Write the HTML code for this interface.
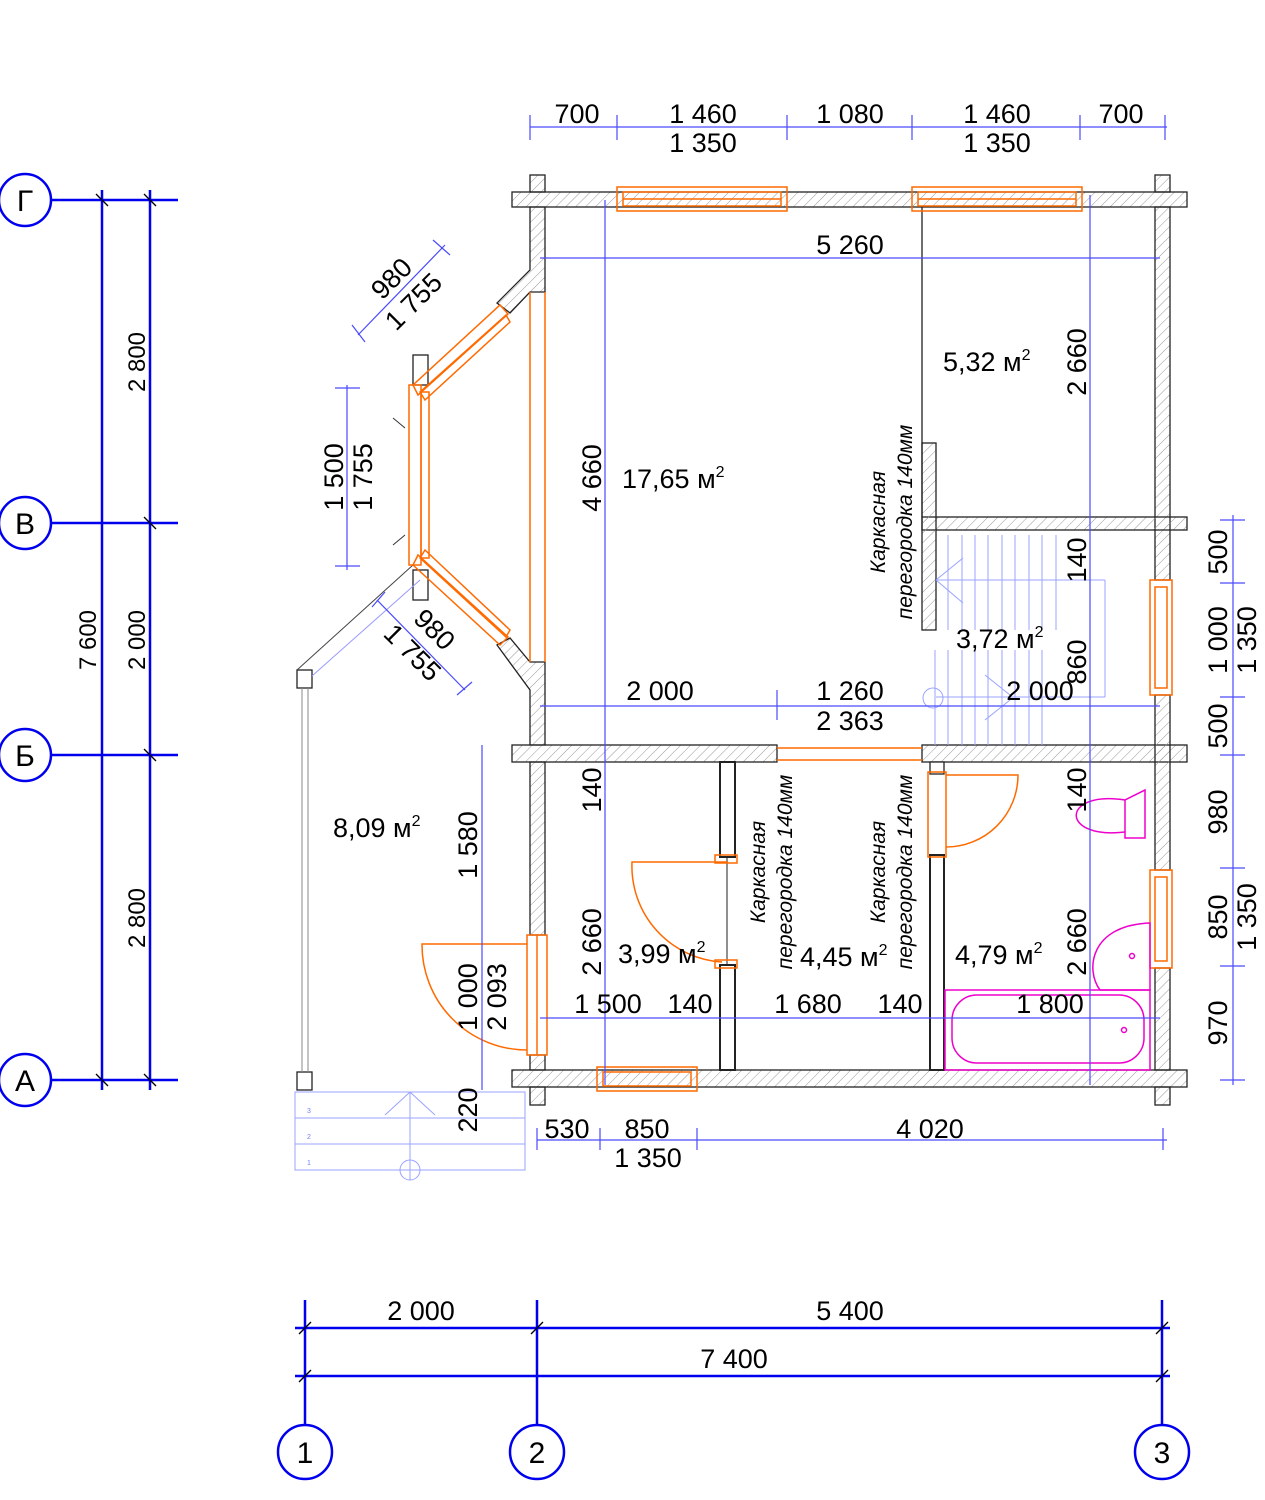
<!DOCTYPE html>
<html><head><meta charset="utf-8"><style>
html,body{margin:0;padding:0;background:#fff}
svg{display:block}
text{font-family:"Liberation Sans",sans-serif;fill:#000}
</style></head><body>
<svg width="1265" height="1500" viewBox="0 0 1265 1500" xmlns="http://www.w3.org/2000/svg">
<defs>
<pattern id="h" width="7" height="7" patternUnits="userSpaceOnUse" patternTransform="rotate(45)">
<line x1="0" y1="0" x2="0" y2="7" stroke="#999" stroke-width="1"/>
</pattern>
</defs>

<g stroke="#0000ee" stroke-width="2.5" fill="#fff">
<circle cx="25" cy="200" r="26"/><circle cx="25" cy="523" r="26"/><circle cx="25" cy="755" r="26"/><circle cx="25" cy="1080" r="26"/>
<line x1="51" y1="200" x2="178" y2="200"/><line x1="51" y1="523" x2="178" y2="523"/><line x1="51" y1="755" x2="178" y2="755"/><line x1="51" y1="1080" x2="178" y2="1080"/>
<line x1="102" y1="190" x2="102" y2="1090"/><line x1="150" y1="190" x2="150" y2="1090"/>
<circle cx="305" cy="1452" r="27"/><circle cx="537" cy="1452" r="27"/><circle cx="1162" cy="1452" r="27"/>
<line x1="305" y1="1425" x2="305" y2="1300"/><line x1="537" y1="1425" x2="537" y2="1300"/><line x1="1162" y1="1425" x2="1162" y2="1300"/>
<line x1="295" y1="1328" x2="1170" y2="1328"/><line x1="295" y1="1376" x2="1170" y2="1376"/>
</g>
<g stroke="#000" stroke-width="1.3">
<line x1="96" y1="194" x2="108" y2="206"/><line x1="144" y1="194" x2="156" y2="206"/>
<line x1="144" y1="517" x2="156" y2="529"/><line x1="144" y1="749" x2="156" y2="761"/>
<line x1="96" y1="1074" x2="108" y2="1086"/><line x1="144" y1="1074" x2="156" y2="1086"/>
<line x1="299" y1="1334" x2="311" y2="1322"/><line x1="531" y1="1334" x2="543" y2="1322"/><line x1="1156" y1="1334" x2="1168" y2="1322"/>
<line x1="299" y1="1382" x2="311" y2="1370"/><line x1="1156" y1="1382" x2="1168" y2="1370"/>
</g>
<g font-size="30" text-anchor="middle">
<text x="25" y="211">Г</text><text x="25" y="534">В</text><text x="25" y="766">Б</text><text x="25" y="1091">А</text>
<text x="305" y="1463">1</text><text x="537" y="1463">2</text><text x="1162" y="1463">3</text>
</g>
<g font-size="24" text-anchor="middle">
<text transform="translate(96,640) rotate(-90)">7 600</text>
<text transform="translate(145,362) rotate(-90)">2 800</text>
<text transform="translate(145,640) rotate(-90)">2 000</text>
<text transform="translate(145,918) rotate(-90)">2 800</text>
</g>
<g font-size="27" text-anchor="middle">
<text x="421" y="1320">2 000</text><text x="850" y="1320">5 400</text><text x="734" y="1368">7 400</text>
</g>

<g fill="url(#h)" stroke="#222" stroke-width="1.3">
<rect x="512" y="192" width="675" height="15"/>
<rect x="530" y="175" width="15" height="17"/><rect x="1155" y="175" width="15" height="17"/>
<polygon points="530,207 545,207 545,292 530,292 510,313 497,303 530,270"/>
<polygon points="497,645 510,638 530,662 545,662 545,745 530,745 530,690"/>
<rect x="530" y="762" width="15" height="173"/>
<rect x="530" y="1055" width="15" height="15"/>
<rect x="512" y="745" width="265" height="17"/>
<rect x="922" y="745" width="265" height="17"/>
<rect x="512" y="1070" width="675" height="17"/>
<rect x="530" y="1087" width="15" height="18"/><rect x="1155" y="1087" width="15" height="18"/>
<rect x="1155" y="207" width="15" height="373"/>
<rect x="1155" y="695" width="15" height="175"/>
<rect x="1155" y="968" width="15" height="102"/>
<rect x="922" y="517" width="265" height="13"/>
<rect x="922" y="443" width="14" height="187"/>
<rect x="720" y="762" width="15" height="95" fill="#fff" stroke-width="2"/>
<rect x="720" y="965" width="15" height="105" fill="#fff" stroke-width="2"/>
<rect x="930" y="855" width="14" height="215" fill="#fff" stroke-width="2"/>
<rect x="930" y="762" width="14" height="12" fill="#fff"/>
<rect x="297" y="670" width="15" height="18" fill="#fff"/><rect x="297" y="1072" width="15" height="18" fill="#fff"/>
<rect x="413" y="355" width="15" height="30" fill="#fff"/><rect x="413" y="570" width="15" height="30" fill="#fff"/>
</g>
<line x1="922" y1="207" x2="922" y2="517" stroke="#222" stroke-width="1.3"/>
<line x1="727" y1="857" x2="727" y2="965" stroke="#222" stroke-width="1"/>
<line x1="302" y1="688" x2="302" y2="1072" stroke="#888"/><line x1="308" y1="688" x2="308" y2="1072" stroke="#888"/>
<line x1="297" y1="670" x2="413" y2="565" stroke="#444"/>
<line x1="312" y1="676" x2="420" y2="580" stroke="#99f"/>
<line x1="393" y1="418" x2="405" y2="428" stroke="#333"/><line x1="393" y1="545" x2="405" y2="535" stroke="#333"/>

<g fill="none" stroke="#ff6a00" stroke-width="1.5">
<rect x="617" y="187" width="170" height="24"/><rect x="623" y="192" width="158" height="14"/>
<line x1="623" y1="199" x2="781" y2="199"/>
<rect x="912" y="187" width="170" height="24"/><rect x="918" y="192" width="158" height="14"/>
<line x1="918" y1="199" x2="1076" y2="199"/>
<rect x="597" y="1067" width="100" height="24"/><rect x="603" y="1072" width="88" height="14"/>
<rect x="1150" y="580" width="22" height="115"/><rect x="1155" y="587" width="12" height="101"/>
<rect x="1150" y="870" width="22" height="98"/><rect x="1155" y="877" width="12" height="84"/>
<rect x="527" y="935" width="20" height="120"/><line x1="537" y1="935" x2="537" y2="1055"/>
<line x1="545" y1="292" x2="545" y2="662"/><line x1="530" y1="292" x2="530" y2="662"/>
<polygon points="413,385 418,395 508,314 500,305"/>
<polygon points="420,392 425,400 510,322 506,315"/>
<rect x="409" y="385" width="12" height="180"/><rect x="421" y="392" width="8" height="166"/>
<polygon points="413,565 418,555 508,637 500,645"/>
<polygon points="420,558 425,550 510,630 506,637"/>
<line x1="777" y1="748" x2="922" y2="748"/><line x1="777" y1="760" x2="922" y2="760"/>
<rect x="715" y="855" width="22" height="8"/><rect x="715" y="960" width="22" height="8"/>
<path d="M728 862 L632 862 A96 96 0 0 0 722 962"/>
<rect x="928" y="772" width="18" height="85"/>
<path d="M946 775 L1018 775 A72 72 0 0 1 946 847"/>
<path d="M527 944 L422 944 A105 105 0 0 0 527 1050"/>
</g>

<g fill="none" stroke="#ee00cc" stroke-width="1.5">
<path d="M1145 790 L1145 838 L1125 838 L1125 800 Z"/>
<path d="M1125 800 C1060 790 1060 840 1125 832"/>
<path d="M1150 923 L1150 990 L1100 990 C1085 970 1090 925 1150 923 Z"/>
<circle cx="1132" cy="956" r="2.5"/>
<rect x="945" y="990" width="205" height="80"/>
<rect x="952" y="995" width="192" height="68" rx="25"/>
<circle cx="1124" cy="1030" r="2.5"/>
</g>

<g stroke="#9aa3ff" stroke-width="1" fill="none">
<line x1="936" y1="580" x2="1105" y2="580"/><line x1="936" y1="697" x2="1105" y2="697"/>
<line x1="1105" y1="580" x2="1105" y2="697"/>
<line x1="948" y1="535" x2="948" y2="630"/><line x1="962" y1="535" x2="962" y2="630"/><line x1="975" y1="535" x2="975" y2="630"/>
<line x1="988" y1="535" x2="988" y2="630"/><line x1="1002" y1="535" x2="1002" y2="630"/><line x1="1015" y1="535" x2="1015" y2="630"/>
<line x1="1029" y1="535" x2="1029" y2="630"/><line x1="1042" y1="535" x2="1042" y2="630"/><line x1="1056" y1="535" x2="1056" y2="630"/>
<line x1="935" y1="650" x2="935" y2="745"/><line x1="948" y1="650" x2="948" y2="745"/><line x1="962" y1="650" x2="962" y2="745"/>
<line x1="975" y1="650" x2="975" y2="745"/><line x1="988" y1="650" x2="988" y2="745"/><line x1="1002" y1="650" x2="1002" y2="745"/>
<line x1="1015" y1="650" x2="1015" y2="745"/><line x1="1029" y1="650" x2="1029" y2="745"/><line x1="1042" y1="650" x2="1042" y2="745"/>
<circle cx="933" cy="698" r="10"/>
<line x1="936" y1="580" x2="963" y2="558"/><line x1="936" y1="580" x2="963" y2="603"/>
<line x1="985" y1="675" x2="1010" y2="695"/><line x1="985" y1="720" x2="1010" y2="700"/>
<rect x="295" y="1092" width="230" height="78"/>
<line x1="295" y1="1118" x2="525" y2="1118"/><line x1="295" y1="1144" x2="525" y2="1144"/>
<line x1="410" y1="1092" x2="410" y2="1180"/><line x1="385" y1="1115" x2="410" y2="1092"/><line x1="435" y1="1115" x2="410" y2="1092"/>
<circle cx="410" cy="1170" r="10"/>
</g>
<g font-size="7">
<text x="307" y="1113" style="fill:#7080ff">3</text><text x="307" y="1139" style="fill:#7080ff">2</text><text x="307" y="1165" style="fill:#7080ff">1</text>
</g>

<g stroke="#4a4aff" stroke-width="1.2" fill="none">
<line x1="530" y1="127" x2="1167" y2="127"/>
<line x1="530" y1="115" x2="530" y2="140"/><line x1="617" y1="115" x2="617" y2="140"/><line x1="787" y1="115" x2="787" y2="140"/>
<line x1="912" y1="115" x2="912" y2="140"/><line x1="1080" y1="115" x2="1080" y2="140"/><line x1="1165" y1="115" x2="1165" y2="140"/>
<line x1="540" y1="258" x2="1160" y2="258"/>
<line x1="540" y1="706" x2="1160" y2="706"/>
<line x1="605" y1="200" x2="605" y2="1085"/>
<line x1="1090" y1="195" x2="1090" y2="1085"/>
<line x1="540" y1="1018" x2="1160" y2="1018"/>
<line x1="537" y1="1140" x2="1167" y2="1140"/>
<line x1="537" y1="1128" x2="537" y2="1150"/><line x1="600" y1="1128" x2="600" y2="1150"/><line x1="697" y1="1128" x2="697" y2="1150"/><line x1="1163" y1="1128" x2="1163" y2="1150"/>
<line x1="482" y1="745" x2="482" y2="1090"/>
<line x1="347" y1="385" x2="347" y2="570"/>
<line x1="335" y1="388" x2="360" y2="388"/><line x1="335" y1="566" x2="360" y2="566"/>
<line x1="1233" y1="515" x2="1233" y2="1085"/>
<line x1="1220" y1="520" x2="1245" y2="520"/><line x1="1220" y1="583" x2="1245" y2="583"/><line x1="1220" y1="697" x2="1245" y2="697"/>
<line x1="1220" y1="755" x2="1245" y2="755"/><line x1="1220" y1="868" x2="1245" y2="868"/><line x1="1220" y1="966" x2="1245" y2="966"/><line x1="1220" y1="1080" x2="1245" y2="1080"/>
<line x1="358" y1="335" x2="445" y2="245"/><line x1="352" y1="325" x2="365" y2="342"/><line x1="433" y1="240" x2="450" y2="255"/>
<line x1="377" y1="600" x2="465" y2="690"/><line x1="372" y1="607" x2="385" y2="592"/><line x1="457" y1="695" x2="472" y2="682"/>
<line x1="777" y1="690" x2="777" y2="720"/>
</g>

<g font-size="27" text-anchor="middle">
<text x="577" y="123">700</text><text x="703" y="123">1 460</text><text x="703" y="152">1 350</text>
<text x="850" y="123">1 080</text><text x="997" y="123">1 460</text><text x="997" y="152">1 350</text><text x="1121" y="123">700</text>
<text x="850" y="254">5 260</text>
<text x="660" y="700">2 000</text><text x="850" y="700">1 260</text><text x="1040" y="700">2 000</text>
<text x="850" y="730">2 363</text>
<text x="608" y="1013">1 500</text><text x="690" y="1013">140</text><text x="808" y="1013">1 680</text><text x="900" y="1013">140</text><text x="1050" y="1013">1 800</text>
<text x="567" y="1138">530</text><text x="647" y="1138">850</text><text x="648" y="1167">1 350</text><text x="930" y="1138">4 020</text>
<text transform="translate(601,478) rotate(-90)">4 660</text>
<text transform="translate(601,790) rotate(-90)">140</text>
<text transform="translate(601,942) rotate(-90)">2 660</text>
<text transform="translate(1086,362) rotate(-90)">2 660</text>
<text transform="translate(1086,560) rotate(-90)">140</text>
<text transform="translate(1086,662) rotate(-90)">860</text>
<text transform="translate(1086,790) rotate(-90)">140</text>
<text transform="translate(1086,942) rotate(-90)">2 660</text>
<text transform="translate(477,845) rotate(-90)">1 580</text>
<text transform="translate(477,997) rotate(-90)">1 000</text>
<text transform="translate(506,997) rotate(-90)">2 093</text>
<text transform="translate(477,1110) rotate(-90)">220</text>
<text transform="translate(343,477) rotate(-90)">1 500</text>
<text transform="translate(372,477) rotate(-90)">1 755</text>
<text transform="translate(1227,552) rotate(-90)">500</text>
<text transform="translate(1227,640) rotate(-90)">1 000</text>
<text transform="translate(1256,640) rotate(-90)">1 350</text>
<text transform="translate(1227,726) rotate(-90)">500</text>
<text transform="translate(1227,812) rotate(-90)">980</text>
<text transform="translate(1227,917) rotate(-90)">850</text>
<text transform="translate(1256,917) rotate(-90)">1 350</text>
<text transform="translate(1227,1023) rotate(-90)">970</text>
<text transform="translate(398,285) rotate(-45)">980</text>
<text transform="translate(420,308) rotate(-45)">1 755</text>
<text transform="translate(428,636) rotate(45)">980</text>
<text transform="translate(406,659) rotate(45)">1 755</text>
</g>
<g font-size="27">
<text x="622" y="488">17,65 м<tspan font-size="16" dy="-11">2</tspan></text>
<text x="943" y="371">5,32 м<tspan font-size="16" dy="-11">2</tspan></text>
<text x="956" y="648">3,72 м<tspan font-size="16" dy="-11">2</tspan></text>
<text x="333" y="837">8,09 м<tspan font-size="16" dy="-11">2</tspan></text>
<text x="618" y="963">3,99 м<tspan font-size="16" dy="-11">2</tspan></text>
<text x="800" y="966">4,45 м<tspan font-size="16" dy="-11">2</tspan></text>
<text x="955" y="964">4,79 м<tspan font-size="16" dy="-11">2</tspan></text>
</g>
<g font-size="21" font-style="italic" text-anchor="middle">
<text transform="translate(885,522) rotate(-90)">Каркасная</text>
<text transform="translate(912,522) rotate(-90)">перегородка 140мм</text>
<text transform="translate(765,872) rotate(-90)">Каркасная</text>
<text transform="translate(792,872) rotate(-90)">перегородка 140мм</text>
<text transform="translate(885,872) rotate(-90)">Каркасная</text>
<text transform="translate(912,872) rotate(-90)">перегородка 140мм</text>
</g>
</svg>
</body></html>
